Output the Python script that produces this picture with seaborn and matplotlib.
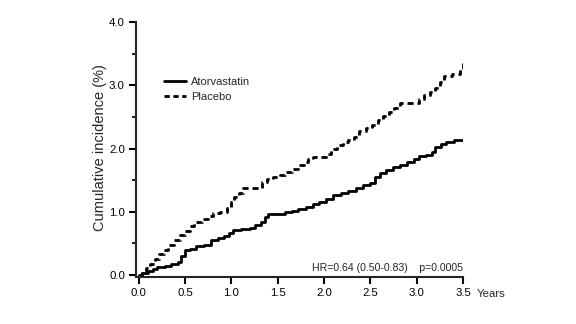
import matplotlib
matplotlib.use("Agg")
import matplotlib.pyplot as plt
from matplotlib.lines import Line2D
import seaborn as sns
import pandas as pd

# Cumulative incidence (%) over follow-up (years)
atorva_years = [0, 0.04, 0.1, 0.15, 0.2, 0.28, 0.35, 0.42, 0.46, 0.5, 0.55, 0.62, 0.7,
                0.78, 0.85, 0.92, 0.97, 1.02, 1.1, 1.2, 1.26, 1.32, 1.36, 1.4, 1.5, 1.58,
                1.65, 1.72, 1.8, 1.88, 1.95, 2.02, 2.1, 2.18, 2.26, 2.34, 2.42, 2.5, 2.55,
                2.6, 2.67, 2.74, 2.82, 2.9, 2.97, 3.03, 3.1, 3.16, 3.2, 3.26, 3.32, 3.4, 3.5]
atorva_incidence = [0, 0.03, 0.06, 0.10, 0.13, 0.15, 0.17, 0.20, 0.30, 0.39, 0.42, 0.46,
                    0.48, 0.55, 0.58, 0.62, 0.66, 0.71, 0.73, 0.75, 0.79, 0.84, 0.92, 0.96,
                    0.96, 0.99, 1.02, 1.05, 1.08, 1.12, 1.16, 1.21, 1.26, 1.30, 1.33, 1.38,
                    1.42, 1.46, 1.55, 1.61, 1.66, 1.71, 1.74, 1.78, 1.84, 1.88, 1.90, 1.95,
                    2.03, 2.07, 2.11, 2.13, 2.13]

placebo_years = [0, 0.03, 0.08, 0.12, 0.17, 0.22, 0.27, 0.32, 0.38, 0.44, 0.5, 0.55, 0.6,
                 0.68, 0.75, 0.8, 0.88, 0.95, 1.0, 1.03, 1.08, 1.12, 1.2, 1.29, 1.33, 1.38,
                 1.45, 1.52, 1.58, 1.65, 1.72, 1.78, 1.83, 1.88, 1.95, 2.02, 2.08, 2.14, 2.2,
                 2.26, 2.32, 2.38, 2.45, 2.52, 2.58, 2.64, 2.7, 2.76, 2.82, 2.96, 3.02, 3.08,
                 3.14, 3.2, 3.25, 3.3, 3.38, 3.44, 3.47, 3.5]
placebo_incidence = [0, 0.07, 0.12, 0.18, 0.26, 0.33, 0.40, 0.48, 0.56, 0.63, 0.70, 0.78,
                     0.84, 0.89, 0.94, 0.98, 1.00, 1.06, 1.15, 1.24, 1.30, 1.37, 1.37, 1.37,
                     1.47, 1.52, 1.55, 1.58, 1.63, 1.68, 1.74, 1.79, 1.84, 1.87, 1.87, 1.92,
                     2.00, 2.05, 2.10, 2.13, 2.18, 2.27, 2.33, 2.38, 2.45, 2.52, 2.58, 2.64,
                     2.72, 2.72, 2.78, 2.85, 2.90, 2.95, 3.05, 3.15, 3.18, 3.18, 3.28, 3.35]

groups = ["Atorvastatin", "Placebo"]
x_ticks = [0.0, 0.5, 1.0, 1.5, 2.0, 2.5, 3.0, 3.5]
y_ticks = [0.0, 1.0, 2.0, 3.0, 4.0]
y_minor = [0.5, 1.5, 2.5, 3.5]
stats_text = "HR=0.64 (0.50-0.83)    p=0.0005"

df = pd.concat([
    pd.DataFrame({"years": atorva_years, "incidence": atorva_incidence, "group": groups[0]}),
    pd.DataFrame({"years": placebo_years, "incidence": placebo_incidence, "group": groups[1]}),
])

sns.set_style("ticks")
plt.rcParams["font.family"] = ["Liberation Sans", "DejaVu Sans"]

fig = plt.figure(figsize=(5.76, 3.24), dpi=100)
ax = fig.add_axes([136 / 576, 47 / 324, 327 / 576, 255 / 324])

dash_pattern = (2.2, 1.4)
sns.lineplot(data=df, x="years", y="incidence", hue="group", style="group",
             palette={g: "black" for g in groups},
             dashes={groups[0]: "", groups[1]: dash_pattern},
             estimator=None, sort=False, drawstyle="steps-post",
             linewidth=2.0, legend=False, ax=ax)

ax.set_xlim(-0.03, 3.5)
ax.set_ylim(-0.03, 4.0)
ax.set_xticks(x_ticks)
ax.set_xticklabels([f"{v:.1f}" for v in x_ticks])
ax.set_yticks(y_ticks)
ax.set_yticklabels([f"{v:.1f}" for v in y_ticks])
ax.set_yticks(y_minor, minor=True)
ax.set_xlabel("")
ax.set_ylabel("")

sns.despine(ax=ax)
for side in ("left", "bottom"):
    ax.spines[side].set_linewidth(1.5)
ax.tick_params(axis="both", which="major", length=5, width=1.5, labelsize=8.2, pad=3,
               direction="out", colors="black")
ax.tick_params(axis="y", which="minor", length=3, width=1.5, direction="out")

handles = [Line2D([], [], color="black", linewidth=2.0),
           Line2D([], [], color="black", linewidth=2.0, dashes=(1.9, 1.3))]
ax.legend(handles, groups, loc="upper left", bbox_to_anchor=(0.0856, 0.785),
          frameon=False, fontsize=8, handlelength=2.0, handletextpad=0.4,
          labelspacing=0.45, borderpad=0, borderaxespad=0)

ax.text(1.0, 0.022, stats_text, transform=ax.transAxes, ha="right", va="baseline",
        fontsize=7.6)
fig.text(100 / 576, 1 - 148 / 324, "Cumulative incidence (%)", rotation=90,
         ha="center", va="center", fontsize=10.5)
fig.text(477 / 576, 1 - 294 / 324, "Years", ha="left", va="center", fontsize=8.2)

fig.savefig("out.png", dpi=100, facecolor="white")
